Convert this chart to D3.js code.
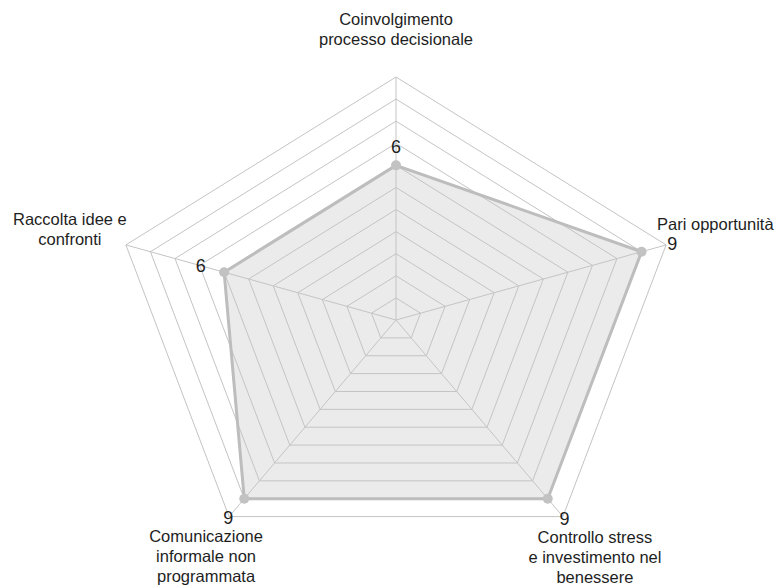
<!DOCTYPE html>
<html>
<head>
<meta charset="utf-8">
<script src="https://cdn.jsdelivr.net/npm/d3@7"></script>
<style>
  body { margin: 0; background: #fff; }
  text { font-family: "Liberation Sans", Arial, Helvetica, sans-serif; fill: #1e1e1e; }
</style>
</head>
<body>
<svg id="radar" width="782" height="587"></svg>
<script>
// data
const axes = [
    ["Coinvolgimento", "processo decisionale"],
    ["Pari opportunità"],
    ["Controllo stress", "e investimento nel", "benessere"],
    ["Comunicazione", "informale non", "programmata"],
    ["Raccolta idee e", "confronti"]
];
const values = [6, 9, 9, 9, 6];
const levels = [0, 1, 2, 3, 4, 5, 6, 7, 8, 9, 10];

// label placement relative to outer vertex (layout only)
const labelPos = [
    { dx: 0, dy: -52, anchor: "middle", lh: 20 },
    { dx: -9, dy: -15, anchor: "start", lh: 20 },
    { dx: 32, dy: 26, anchor: "middle", lh: 20 },
    { dx: -23, dy: 25, anchor: "middle", lh: 20 },
    { dx: -56, dy: -20, anchor: "middle", lh: 20 }
];
// how far (in scale units) the value label sits past its point
const valOffset = [0.85, 1.25, 1.1, 1.05, 0.95];

const svg = d3.select("#radar"),
    cx = 396,
    cy = 320,
    n = axes.length;

// scanned chart is a bit wider than tall
const rx = d3.scaleLinear().domain([-1, 10]).range([0, 284]);
const ry = d3.scaleLinear().domain([-1, 10]).range([0, 243]);

function pt(i, v) {
    var a = i * 2 * Math.PI / n;
    return [cx + rx(v) * Math.sin(a), cy - ry(v) * Math.cos(a)];
}

var line = d3.line().curve(d3.curveLinearClosed);

// data fill first, grid on top of it
svg.append("path")
    .attr("d", line(values.map(function (v, i) { return pt(i, v); })))
    .attr("fill", "#ebebeb")
    .attr("stroke", "none");

svg.selectAll(".ring")
    .data(levels)
    .enter().append("path")
    .attr("class", "ring")
    .attr("d", function (l) { return line(d3.range(n).map(function (i) { return pt(i, l); })); })
    .attr("fill", "none")
    .attr("stroke", "#c4c4c4")
    .attr("stroke-width", 1);

svg.selectAll(".spoke")
    .data(d3.range(n))
    .enter().append("line")
    .attr("class", "spoke")
    .attr("x1", cx).attr("y1", cy)
    .attr("x2", function (i) { return pt(i, 10)[0]; })
    .attr("y2", function (i) { return pt(i, 10)[1]; })
    .attr("stroke", "#c4c4c4")
    .attr("stroke-width", 1);

svg.append("path")
    .attr("d", line(values.map(function (v, i) { return pt(i, v); })))
    .attr("fill", "none")
    .attr("stroke", "#bdbdbd")
    .attr("stroke-width", 3)
    .attr("stroke-linejoin", "round");

svg.selectAll(".dot")
    .data(values)
    .enter().append("circle")
    .attr("class", "dot")
    .attr("cx", function (v, i) { return pt(i, v)[0]; })
    .attr("cy", function (v, i) { return pt(i, v)[1]; })
    .attr("r", 5)
    .attr("fill", "#c2c2c2");

// value labels
svg.selectAll(".val")
    .data(values)
    .enter().append("text")
    .attr("class", "val")
    .attr("x", function (v, i) { return pt(i, v + valOffset[i])[0]; })
    .attr("y", function (v, i) { return pt(i, v + valOffset[i])[1]; })
    .attr("dy", "0.36em")
    .attr("text-anchor", "middle")
    .style("font-size", "18px")
    .text(function (v) { return v; });

// axis labels
axes.forEach(function (lines, i) {
    var p = pt(i, 10), o = labelPos[i];
    var t = svg.append("text")
        .attr("text-anchor", o.anchor)
        .style("font-size", "16.5px");
    lines.forEach(function (s, k) {
        t.append("tspan")
            .attr("x", p[0] + o.dx)
            .attr("y", p[1] + o.dy + k * o.lh)
            .text(s);
    });
});
</script>
</body>
</html>
